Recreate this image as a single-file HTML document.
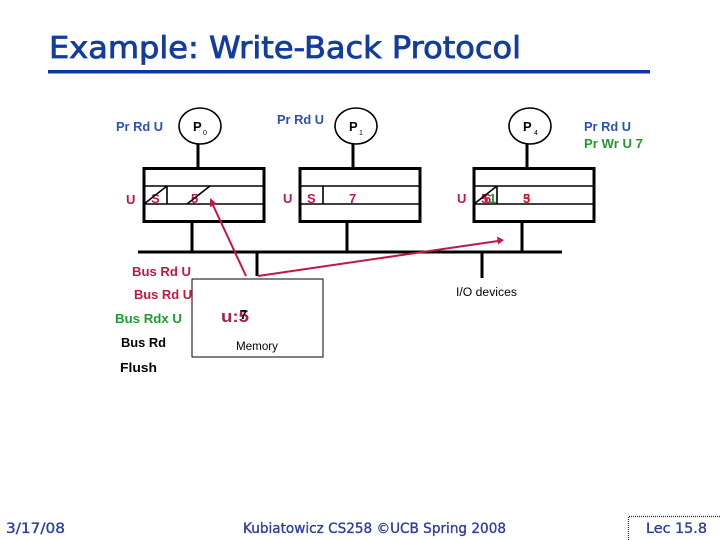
<!DOCTYPE html>
<html>
<head>
<meta charset="utf-8">
<style>
html,body{margin:0;padding:0;background:#fff;width:720px;height:540px;overflow:hidden}
svg{display:block}
text{font-family:"Liberation Sans",Arial,sans-serif}
.c{font-family:"DejaVu Sans",sans-serif}
.b{stroke:#000;fill:none}
.blue{fill:#2b52b0;font-size:13px;font-weight:bold}
.red{fill:#c01840;font-size:13px;font-weight:bold}
.green{fill:#1f9a2c;font-size:13px;font-weight:bold}
.blk{fill:#000;font-size:13px;font-weight:bold}
.foot{fill:#2d3f9c;font-size:14px;stroke:#2d3f9c;stroke-width:.35}
</style>
</head>
<body>
<svg width="720" height="540" viewBox="0 0 720 540" xmlns="http://www.w3.org/2000/svg">
<rect width="720" height="540" fill="#fff"/>

<text class="c" x="49" y="58" font-size="30" fill="#123c9e" stroke="#123c9e" stroke-width=".8" textLength="472" lengthAdjust="spacingAndGlyphs">Example: Write-Back Protocol</text>
<rect x="48" y="70" width="602" height="3.500" fill="#0f36a0"/>

<!-- processors -->
<ellipse class="b" stroke-width="1.600" cx="200" cy="126" rx="21" ry="18"/>
<ellipse class="b" stroke-width="1.600" cx="356" cy="126" rx="21" ry="18"/>
<ellipse class="b" stroke-width="1.600" cx="530" cy="126" rx="21" ry="18"/>
<path class="b" stroke-width="3" d="M198 144V168M353 144V168M527 144V168"/>

<!-- caches -->
<rect class="b" stroke-width="3" x="144" y="168.500" width="120" height="53"/>
<rect class="b" stroke-width="3" x="300" y="168.500" width="120" height="53"/>
<rect class="b" stroke-width="3" x="474" y="168.500" width="120" height="53"/>
<path class="b" stroke-width="1.600" d="M144 186H264M144 204H264M300 186H420M300 204H420M474 186H594M474 204H594M167 186V204M323 186V204M497 186V204"/>

<!-- bus -->
<path class="b" stroke-width="3" d="M192 222V252M347 222V252M522 222V252M138 252H562M257 252V276M482 252V278"/>

<!-- memory -->
<rect x="192" y="279" width="131" height="78" fill="#fff" stroke="#000" stroke-width="1"/>

<!-- processor labels -->
<text x="193" y="131" font-size="13" font-weight="bold">P</text><text x="203" y="135" font-size="7">0</text>
<text x="349" y="131" font-size="13" font-weight="bold">P</text><text x="359" y="135" font-size="7">1</text>
<text x="523" y="131" font-size="13" font-weight="bold">P</text><text x="534" y="135" font-size="7">4</text>

<!-- cache text -->
<g class="red">
<text x="126" y="204">U</text>
<text x="151" y="203">S</text>
<text x="191" y="203">5</text>
<text x="283" y="203">U</text>
<text x="307" y="203">S</text>
<text x="349" y="203">7</text>
<text x="457" y="203">U</text>
<text x="481" y="203">5</text>
<text x="484" y="203">6</text>
<text x="523" y="203">5</text>
<text x="523" y="203" fill="#d02030">3</text>
</g>
<text x="489" y="203" class="green">1</text>
<path class="b" stroke-width="1.600" d="M144 204L167 186M187 204L210 186M474 204L497 186"/>

<!-- action labels -->
<text class="blue" x="116" y="131" textLength="47" lengthAdjust="spacingAndGlyphs">Pr Rd U</text>
<text class="blue" x="277" y="124" textLength="47" lengthAdjust="spacingAndGlyphs">Pr Rd U</text>
<text class="blue" x="584" y="131" textLength="47" lengthAdjust="spacingAndGlyphs">Pr Rd U</text>
<text class="green" x="584" y="148" textLength="59" lengthAdjust="spacingAndGlyphs" fill="#1f8f2c">Pr Wr U 7</text>

<text class="red" x="132" y="276" textLength="59" lengthAdjust="spacingAndGlyphs">Bus Rd U</text>
<text class="red" x="134" y="299" textLength="58" lengthAdjust="spacingAndGlyphs">Bus Rd U</text>
<text class="green" x="115" y="323" textLength="67" lengthAdjust="spacingAndGlyphs">Bus Rdx U</text>
<text class="blk" x="121" y="347" textLength="45" lengthAdjust="spacingAndGlyphs">Bus Rd</text>
<text class="blk" x="120" y="372" textLength="37" lengthAdjust="spacingAndGlyphs">Flush</text>

<!-- memory text -->
<text x="221" y="322" font-size="17" font-weight="bold" fill="#a8204c" textLength="28" lengthAdjust="spacingAndGlyphs">u:5</text>
<text x="240" y="319" font-size="13" font-weight="bold" fill="#000">7</text>
<text x="236" y="350" font-size="11.500" textLength="42" lengthAdjust="spacingAndGlyphs">Memory</text>
<text x="456" y="296" font-size="11.500" textLength="61" lengthAdjust="spacingAndGlyphs">I/O devices</text>

<!-- red arrows -->
<path d="M246 276L212 203" stroke="#c01840" stroke-width="2" fill="none"/>
<path d="M210 198L217 204L210 207Z" fill="#c01840"/>
<path d="M258 276L498 241" stroke="#c01840" stroke-width="2" fill="none"/>
<path d="M504 240L497 236.500L498 244.500Z" fill="#c01840"/>

<!-- footer -->
<text class="c foot" x="6" y="533" textLength="59" lengthAdjust="spacingAndGlyphs">3/17/08</text>
<text class="c foot" x="243" y="533" textLength="263" lengthAdjust="spacingAndGlyphs">Kubiatowicz CS258 ©UCB Spring 2008</text>
<text class="c foot" x="646" y="533" textLength="61" lengthAdjust="spacingAndGlyphs">Lec 15.8</text>
<path d="M628.500 540V516.500H720" fill="none" stroke="#222" stroke-width="1.200" stroke-dasharray="1 1"/>
</svg>
</body>
</html>
